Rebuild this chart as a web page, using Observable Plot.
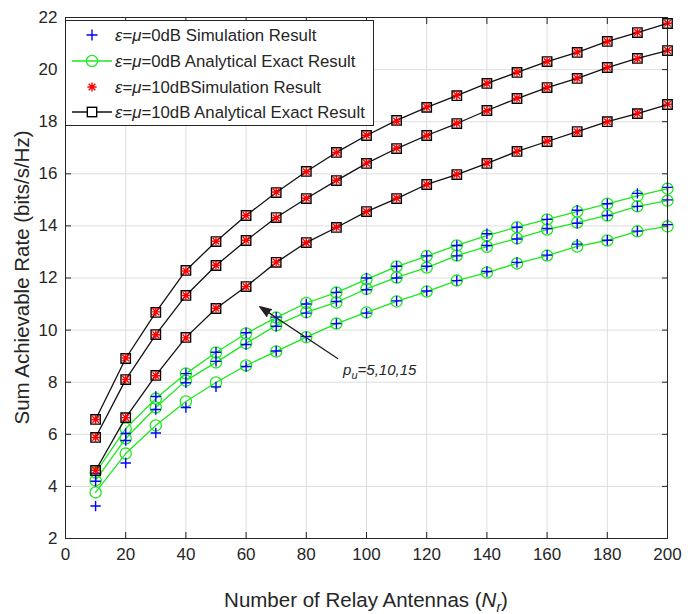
<!DOCTYPE html>
<html><head><meta charset="utf-8">
<script src="https://cdn.jsdelivr.net/npm/d3@7"></script>
<script src="https://cdn.jsdelivr.net/npm/@observablehq/plot@0.6"></script>
<style>body{margin:0;background:#fff;}</style>
</head><body><div id="chart"></div>
<script>
// ---- data ----
const relayAntennas = [10,20,30,40,50,60,70,80,90,100,110,120,130,140,150,160,170,180,190,200];
const xTicks = [0,20,40,60,80,100,120,140,160,180,200];
const yTicks = [2,4,6,8,10,12,14,16,18,20,22];

// eps=mu=10dB analytical exact (black squares), p_u = 15, 10, 5
const exact10dB_pu15 = [6.57,8.91,10.68,12.29,13.40,14.40,15.28,16.09,16.82,17.47,18.05,18.55,19.00,19.47,19.89,20.31,20.66,21.08,21.42,21.77];
const exact10dB_pu10 = [5.88,8.10,9.83,11.33,12.48,13.44,14.32,15.05,15.74,16.40,16.97,17.47,17.93,18.43,18.89,19.31,19.66,20.08,20.43,20.73];
const exact10dB_pu5  = [4.61,6.64,8.26,9.72,10.83,11.67,12.60,13.36,13.94,14.55,15.05,15.59,15.97,16.40,16.86,17.24,17.62,18.00,18.31,18.66];
// eps=mu=10dB simulation (red stars)
const sim10dB_pu15 = [6.57,8.93,10.70,12.27,13.41,14.40,15.30,16.08,16.82,17.48,18.02,18.56,19.01,19.47,19.90,20.31,20.67,21.08,21.43,21.78];
const sim10dB_pu10 = [5.88,8.11,9.82,11.33,12.49,13.45,14.31,15.06,15.75,16.41,16.98,17.47,17.94,18.42,18.90,19.31,19.67,20.08,20.42,20.74];
const sim10dB_pu5  = [4.62,6.64,8.25,9.70,10.84,11.67,12.61,13.36,13.95,14.55,15.06,15.59,15.98,16.41,16.86,17.25,17.61,18.00,18.32,18.67];
// eps=mu=0dB analytical exact (green circles)
const exact0dB_pu15 = [4.53,6.22,7.37,8.33,9.14,9.87,10.48,11.04,11.44,11.95,12.44,12.84,13.25,13.63,13.95,14.25,14.55,14.85,15.15,15.43];
const exact0dB_pu10 = [4.23,5.84,7.03,8.06,8.76,9.49,10.18,10.69,11.06,11.58,12.02,12.40,12.86,13.20,13.52,13.86,14.13,14.40,14.75,14.97];
const exact0dB_pu5  = [3.77,5.26,6.34,7.26,7.99,8.64,9.18,9.73,10.25,10.68,11.10,11.48,11.90,12.21,12.56,12.86,13.21,13.44,13.79,13.98];
// eps=mu=0dB simulation (blue pluses)
const sim0dB_pu15 = [4.50,6.03,7.45,8.33,9.15,9.90,10.50,11.00,11.45,12.00,12.45,12.85,13.25,13.70,13.95,14.25,14.60,14.85,15.25,15.48];
const sim0dB_pu10 = [4.20,5.76,6.95,7.98,8.80,9.45,10.15,10.65,11.10,11.55,12.00,12.45,12.85,13.25,13.50,13.90,14.10,14.40,14.75,15.00];
const sim0dB_pu5  = [3.25,4.90,6.05,7.03,7.82,8.60,9.20,9.75,10.25,10.65,11.12,11.50,11.90,12.25,12.60,12.88,13.30,13.45,13.80,14.05];

const legendLabels = [
  ["0dB Simulation Result"],
  ["0dB Analytical Exact Result"],
  ["10dBSimulation Result"],
  ["10dB Analytical Exact Result"]
];
const annotationArrow = [{x1: 90.4, y1: 8.91, x2: 64.5, y2: 10.9}];
const annotationText = {x: 92.4, y: 8.26, main: "p", sub: "u", rest: "=5,10,15"};

// ---- build tidy tables ----
function tidy(arrs) {
  const out = [];
  arrs.forEach((a, k) => a.forEach((v, i) => out.push({Nr: relayAntennas[i], rate: v, curve: k})));
  return out;
}
const black = tidy([exact10dB_pu15, exact10dB_pu10, exact10dB_pu5]);
const red   = tidy([sim10dB_pu15, sim10dB_pu10, sim10dB_pu5]);
const green = tidy([exact0dB_pu15, exact0dB_pu10, exact0dB_pu5]);
const blue  = tidy([sim0dB_pu15, sim0dB_pu10, sim0dB_pu5]);

const GREEN = "#1ee81e", BLUE = "#0000ff", RED = "#ff0000", AX = "#262626";

const plusSymbol = {draw(ctx, size) {
  const r = Math.sqrt(size / Math.PI);
  ctx.moveTo(-r, 0); ctx.lineTo(r, 0); ctx.moveTo(0, -r); ctx.lineTo(0, r);
}};
const starSymbol = {draw(ctx, size) {
  const r = Math.sqrt(size / Math.PI), d = r * 0.72;
  ctx.moveTo(-r, 0); ctx.lineTo(r, 0); ctx.moveTo(0, -r); ctx.lineTo(0, r);
  ctx.moveTo(-d, -d); ctx.lineTo(d, d); ctx.moveTo(-d, d); ctx.lineTo(d, -d);
}};

const FONT = "'Liberation Sans', Arial, sans-serif";

const plot = Plot.plot({
  width: 700, height: 614,
  marginLeft: 65, marginRight: 33, marginTop: 17, marginBottom: 76,
  style: {fontFamily: FONT, color: AX, background: "#fff", overflow: "visible"},
  x: {domain: [0, 200]},
  y: {domain: [2, 22]},
  marks: [
    Plot.gridX(xTicks, {stroke: "#dedede", strokeOpacity: 1}),
    Plot.gridY(yTicks, {stroke: "#dedede", strokeOpacity: 1}),
    Plot.line(green, {x: "Nr", y: "rate", z: "curve", stroke: GREEN, strokeWidth: 1.3}),
    Plot.dot(green, {x: "Nr", y: "rate", r: 5.6, stroke: GREEN, fill: "none", strokeWidth: 1.3}),
    Plot.dot(blue, {x: "Nr", y: "rate", r: 5.2, symbol: plusSymbol, stroke: BLUE, fill: "none", strokeWidth: 1.4}),
    Plot.line(black, {x: "Nr", y: "rate", z: "curve", stroke: "#111", strokeWidth: 1.3}),
    Plot.dot(black, {x: "Nr", y: "rate", r: 5.3, symbol: "square", stroke: "#000", fill: "none", strokeWidth: 1.4}),
    Plot.dot(red, {x: "Nr", y: "rate", r: 4.6, symbol: starSymbol, stroke: RED, fill: "none", strokeWidth: 1.4}),
    Plot.arrow(annotationArrow, {x1: "x1", y1: "y1", x2: "x2", y2: "y2", stroke: "#222", fill: "#222", strokeWidth: 1.3, headLength: 14, headAngle: 40}),
    Plot.frame({stroke: AX, strokeWidth: 1}),
    Plot.axisX(xTicks, {anchor: "bottom", tickSize: -6, tickPadding: 15, fontSize: 17, label: null, stroke: AX}),
    Plot.axisX(xTicks, {anchor: "top", tickSize: -6, tickFormat: () => "", label: null, stroke: AX}),
    Plot.axisY(yTicks, {anchor: "left", tickSize: -6, tickPadding: 14, fontSize: 17, label: null, stroke: AX}),
    Plot.axisY(yTicks, {anchor: "right", tickSize: -6, tickFormat: () => "", label: null, stroke: AX})
  ]
});

const svg = d3.select(plot);
const sx = plot.scale("x"), sy = plot.scale("y");

// annotation text p_u=5,10,15
{
  const t = svg.append("text")
    .attr("x", sx.apply(annotationText.x)).attr("y", sy.apply(annotationText.y))
    .attr("text-anchor", "start")
    .attr("font-family", FONT).attr("font-size", 15).attr("font-style", "italic").attr("fill", "#262626");
  t.append("tspan").text(annotationText.main);
  t.append("tspan").attr("font-size", 11).attr("dy", 4).text(annotationText.sub);
  t.append("tspan").attr("dy", -4).text(annotationText.rest);
}

// axis labels
{
  const xl = svg.append("text").attr("x", 366).attr("y", 607).attr("text-anchor", "middle")
    .attr("font-family", FONT).attr("font-size", 20.5).attr("fill", AX);
  xl.append("tspan").text("Number of Relay Antennas (");
  xl.append("tspan").attr("font-style", "italic").text("N");
  xl.append("tspan").attr("font-style", "italic").attr("font-size", 14).attr("dy", 5).text("r");
  xl.append("tspan").attr("dy", -5).text(")");

  svg.append("text").attr("transform", "translate(29,277.5) rotate(-90)").attr("text-anchor", "middle")
    .attr("font-family", FONT).attr("font-size", 20.5).attr("fill", AX)
    .text("Sum Achievable Rate (bits/s/Hz)");
}

// legend
{
  const g = svg.append("g");
  g.append("rect").attr("x", 65.5).attr("y", 20.5).attr("width", 308).attr("height", 105)
    .attr("fill", "#fff").attr("stroke", AX).attr("stroke-width", 1);
  const rows = [35, 61, 87, 112];
  const mx = 92;
  // row 0: blue plus
  g.append("path").attr("d", `M${mx-5.5},${rows[0]}H${mx+5.5}M${mx},${rows[0]-5.5}V${rows[0]+5.5}`)
    .attr("stroke", BLUE).attr("stroke-width", 1.4).attr("fill", "none");
  // row 1: green line + circle
  g.append("path").attr("d", `M72,${rows[1]}H112`).attr("stroke", GREEN).attr("stroke-width", 1.3);
  g.append("circle").attr("cx", mx).attr("cy", rows[1]).attr("r", 5.6).attr("fill", "none").attr("stroke", GREEN).attr("stroke-width", 1.3);
  // row 2: red star
  {
    const r = 4.6, d = r * 0.72, cy = rows[2];
    g.append("path").attr("d", `M${mx-r},${cy}H${mx+r}M${mx},${cy-r}V${cy+r}M${mx-d},${cy-d}L${mx+d},${cy+d}M${mx-d},${cy+d}L${mx+d},${cy-d}`)
      .attr("stroke", RED).attr("stroke-width", 1.4).attr("fill", "none");
  }
  // row 3: black line + square
  g.append("path").attr("d", `M72,${rows[3]}H112`).attr("stroke", "#111").attr("stroke-width", 1.3);
  g.append("rect").attr("x", mx - 4.7).attr("y", rows[3] - 4.7).attr("width", 9.4).attr("height", 9.4)
    .attr("fill", "#fff").attr("stroke", "#000").attr("stroke-width", 1.4);

  legendLabels.forEach((lab, i) => {
    const t = g.append("text").attr("x", 115).attr("y", rows[i]).attr("dy", "0.36em")
      .attr("text-anchor", "start")
      .attr("font-family", FONT).attr("font-size", 16.8).attr("fill", AX);
    t.append("tspan").attr("font-style", "italic").text("ε");
    t.append("tspan").text("=");
    t.append("tspan").attr("font-style", "italic").text("μ");
    t.append("tspan").text("=" + lab[0]);
  });
}

document.getElementById("chart").appendChild(plot);
</script>
</body></html>
